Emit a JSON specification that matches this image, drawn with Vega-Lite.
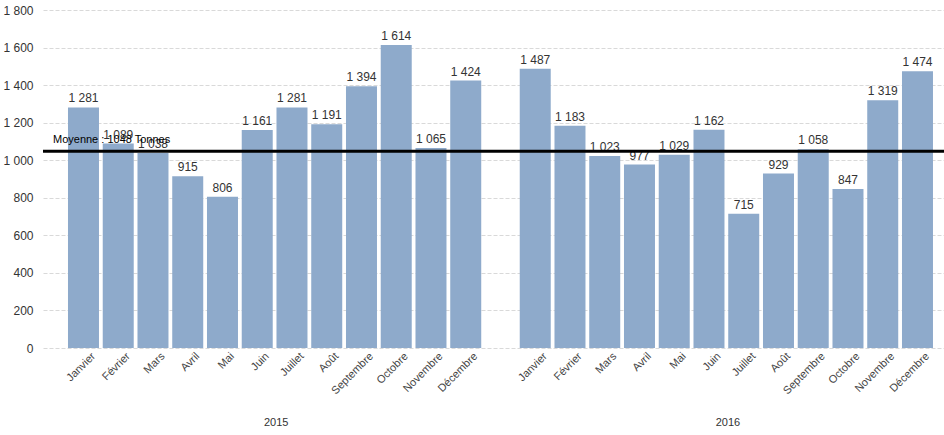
{
  "$schema": "https://vega.github.io/schema/vega-lite/v6.json",
  "autosize": {"type": "none"},
  "padding": {"left": 43, "top": 10, "right": 0, "bottom": 87},
  "width": 901,
  "height": 338,
  "background": "white",
  "config": {
    "locale": {"number": {"decimal": ",", "thousands": " ", "grouping": [3], "currency": ["", " €"]}},
    "view": {"stroke": null},
    "font": "Liberation Sans"
  },
  "datasets": {
    "avg": [{"avg": 1048, "label": "Moyenne : 1048 Tonnes"}]
  },
  "data": {"values": [
    {"key": "Janvier 2015", "value": 1281},
    {"key": "Février 2015", "value": 1089},
    {"key": "Mars 2015", "value": 1038},
    {"key": "Avril 2015", "value": 915},
    {"key": "Mai 2015", "value": 806},
    {"key": "Juin 2015", "value": 1161},
    {"key": "Juillet 2015", "value": 1281},
    {"key": "Août 2015", "value": 1191},
    {"key": "Septembre 2015", "value": 1394},
    {"key": "Octobre 2015", "value": 1614},
    {"key": "Novembre 2015", "value": 1065},
    {"key": "Décembre 2015", "value": 1424},
    {"key": "Janvier 2016", "value": 1487},
    {"key": "Février 2016", "value": 1183},
    {"key": "Mars 2016", "value": 1023},
    {"key": "Avril 2016", "value": 977},
    {"key": "Mai 2016", "value": 1029},
    {"key": "Juin 2016", "value": 1162},
    {"key": "Juillet 2016", "value": 715},
    {"key": "Août 2016", "value": 929},
    {"key": "Septembre 2016", "value": 1058},
    {"key": "Octobre 2016", "value": 847},
    {"key": "Novembre 2016", "value": 1319},
    {"key": "Décembre 2016", "value": 1474}
  ]},
  "resolve": {"axis": {"x": "independent", "y": "independent"}},
  "layer": [
    {
      "mark": {"type": "bar", "color": "#8eaacb"},
      "encoding": {
        "x": {
          "field": "key", "type": "nominal", "sort": null,
          "scale": {
            "domain": ["Janvier 2015","Février 2015","Mars 2015","Avril 2015","Mai 2015","Juin 2015","Juillet 2015","Août 2015","Septembre 2015","Octobre 2015","Novembre 2015","Décembre 2015","gap","Janvier 2016","Février 2016","Mars 2016","Avril 2016","Mai 2016","Juin 2016","Juillet 2016","Août 2016","Septembre 2016","Octobre 2016","Novembre 2016","Décembre 2016"],
            "paddingInner": 0.108, "paddingOuter": 0.518, "align": 0.694
          },
          "axis": {
            "orient": "bottom",
            "title": null, "domain": false, "ticks": false, "grid": false,
            "labelAngle": -45, "labelFontSize": 11, "labelColor": "#444",
            "labelPadding": 2, "labelOffset": 6,
            "labelExpr": "indexof(datum.value, ' ') > 0 ? split(datum.value, ' ')[0] : ''"
          }
        },
        "y": {
          "field": "value", "type": "quantitative",
          "scale": {"domain": [0, 1800], "nice": false},
          "axis": {
            "orient": "left",
            "title": null, "domain": false, "ticks": false,
            "values": [0,200,400,600,800,1000,1200,1400,1600,1800],
            "format": ",d", "labelFontSize": 12, "labelColor": "#333", "labelPadding": 10,
            "gridColor": "#d9d9d9", "gridDash": [4, 2], "gridWidth": 1
          }
        }
      }
    },
    {
      "mark": {"type": "text", "baseline": "alphabetic", "dy": -5, "fontSize": 12, "color": "#333"},
      "encoding": {
        "x": {
          "field": "key", "type": "nominal", "sort": null,
          "axis": {
            "orient": "bottom",
            "title": null, "domain": false, "ticks": false, "grid": false,
            "values": ["Juin 2015", "Juin 2016"],
            "labelAngle": 0, "labelAlign": "center", "labelBaseline": "middle",
            "labelPadding": 74, "labelOffset": 19, "labelFontSize": 11, "labelColor": "#333",
            "labelExpr": "split(datum.value, ' ')[1]"
          }
        },
        "y": {
          "field": "value", "type": "quantitative",
          "axis": {
            "orient": "left",
            "title": null, "domain": false, "ticks": false, "labels": false,
            "values": [100,300,500,700,900,1100,1300,1500,1700],
            "gridColor": "#d0d0d0", "gridDash": [1, 2], "gridWidth": 1
          }
        },
        "text": {"field": "value", "type": "quantitative", "format": ",d"}
      }
    },
    {
      "data": {"name": "avg"},
      "mark": {"type": "rule", "color": "black", "strokeWidth": 3},
      "encoding": {
        "y": {"field": "avg", "type": "quantitative", "axis": null}
      }
    },
    {
      "data": {"name": "avg"},
      "mark": {"type": "text", "align": "left", "baseline": "alphabetic", "dx": -15, "dy": -8, "fontSize": 11, "color": "black"},
      "encoding": {
        "x": {"datum": "Janvier 2015", "type": "nominal", "bandPosition": 0, "axis": null},
        "y": {"field": "avg", "type": "quantitative", "axis": null},
        "text": {"field": "label"}
      }
    }
  ]
}
